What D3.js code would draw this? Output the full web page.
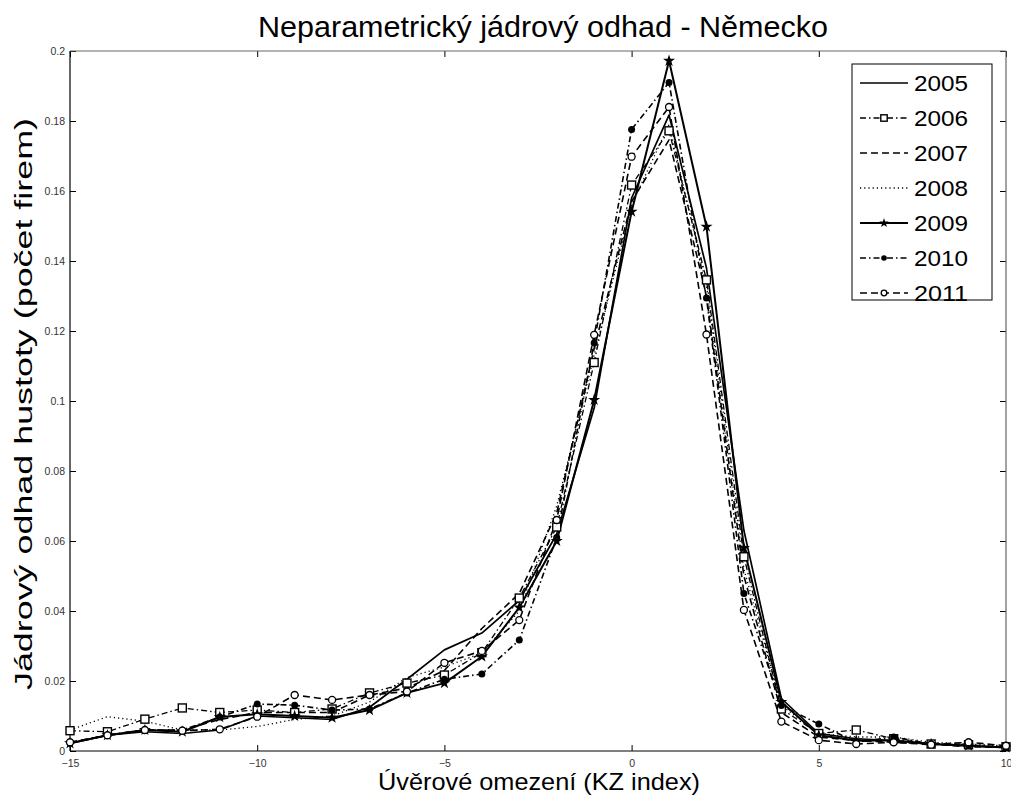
<!DOCTYPE html>
<html><head><meta charset="utf-8">
<script src="https://cdnjs.cloudflare.com/ajax/libs/d3/7.8.5/d3.min.js"></script>
<style>body{margin:0;background:#fff;} svg{display:block;font-family:"Liberation Sans",Arial,sans-serif;}</style>
</head><body>
<svg id="chart" width="1011" height="796"></svg>
<script>
const xValues = [-15,-14,-13,-12,-11,-10,-9,-8,-7,-6,-5,-4,-3,-2,-1,0,1,2,3,4,5,6,7,8,9,10];
const y2005 = [0.0022,0.0045,0.0055,0.0050,0.0060,0.0100,0.0095,0.0090,0.0125,0.0205,0.0289,0.0337,0.0430,0.0620,0.0980,0.1580,0.1817,0.1380,0.0630,0.0150,0.0050,0.0035,0.0030,0.0020,0.0015,0.0010];
const y2006 = [0.0058,0.0055,0.0091,0.0123,0.0110,0.0117,0.0110,0.0120,0.0166,0.0194,0.0217,0.0281,0.0437,0.0640,0.1110,0.1617,0.1772,0.1346,0.0555,0.0120,0.0050,0.0060,0.0035,0.0020,0.0018,0.0012];
const y2007 = [0.0025,0.0045,0.0060,0.0060,0.0090,0.0110,0.0110,0.0110,0.0160,0.0180,0.0230,0.0350,0.0450,0.0680,0.1150,0.1570,0.1746,0.1300,0.0500,0.0110,0.0040,0.0030,0.0025,0.0020,0.0012,0.0010];
const y2008 = [0.0060,0.0098,0.0085,0.0060,0.0060,0.0070,0.0090,0.0100,0.0140,0.0210,0.0240,0.0280,0.0400,0.0700,0.1130,0.1560,0.1790,0.1330,0.0520,0.0130,0.0050,0.0040,0.0040,0.0025,0.0020,0.0015];
const y2009 = [0.0022,0.0045,0.0060,0.0055,0.0097,0.0105,0.0100,0.0095,0.0117,0.0166,0.0194,0.0270,0.0410,0.0600,0.1003,0.1541,0.1972,0.1498,0.0580,0.0140,0.0045,0.0030,0.0030,0.0020,0.0015,0.0010];
const y2010 = [0.0022,0.0045,0.0060,0.0060,0.0097,0.0134,0.0131,0.0117,0.0120,0.0166,0.0205,0.0220,0.0317,0.0610,0.1166,0.1776,0.1910,0.1294,0.0450,0.0130,0.0077,0.0025,0.0040,0.0020,0.0015,0.0010];
const y2011 = [0.0025,0.0045,0.0060,0.0058,0.0062,0.0098,0.0160,0.0146,0.0160,0.0170,0.0252,0.0286,0.0374,0.0660,0.1189,0.1698,0.1840,0.1190,0.0403,0.0084,0.0031,0.0020,0.0025,0.0018,0.0025,0.0015];
const seriesNames = ["2005","2006","2007","2008","2009","2010","2011"];
const xTicks = [-15,-10,-5,0,5,10];
const yTicks = [0,0.02,0.04,0.06,0.08,0.1,0.12,0.14,0.16,0.18,0.2];
const titleText = "Neparametrický jádrový odhad - Německo";
const xLabel = "Úvěrové omezení (KZ index)";
const yLabel = "Jádrový odhad hustoty (počet firem)";

const seriesValues = [y2005,y2006,y2007,y2008,y2009,y2010,y2011];
const styles = [
  {dash:null, width:1.7, marker:null},
  {dash:"6,3,1.5,3", width:1.3, marker:"square"},
  {dash:"7,4", width:1.6, marker:null},
  {dash:"1.2,3", width:1.3, marker:null},
  {dash:null, width:2.0, marker:"star"},
  {dash:"6,3,1.5,3", width:1.6, marker:"dot"},
  {dash:"7,4", width:1.6, marker:"circle"}
];

const svg = d3.select("#chart");
const L = 70, R = 1006, T = 51, B = 751;
const x = d3.scaleLinear().domain([-15,10]).range([L,R]);
const y = d3.scaleLinear().domain([0,0.2]).range([B,T]);

svg.append("rect").attr("x",L).attr("y",T).attr("width",R-L).attr("height",B-T)
  .attr("fill","#fff").attr("stroke","none");

const gx = svg.append("g").attr("transform",`translate(0,${B})`)
  .call(d3.axisBottom(x).tickValues(xTicks).tickSize(-6).tickPadding(9).tickFormat(d3.format("d")));
const gxt = svg.append("g").attr("transform",`translate(0,${T})`)
  .call(d3.axisTop(x).tickValues(xTicks).tickSize(-6).tickFormat(""));
const gy = svg.append("g").attr("transform",`translate(${L},0)`)
  .call(d3.axisLeft(y).tickValues(yTicks).tickSize(-6).tickPadding(5).tickFormat(d => d===0?"0":String(+d.toFixed(2))));
const gyr = svg.append("g").attr("transform",`translate(${R},0)`)
  .call(d3.axisRight(y).tickValues(yTicks).tickSize(-6).tickFormat(""));
[gx,gxt,gy,gyr].forEach(g=>{
  g.select(".domain").remove();
  g.selectAll(".tick line").attr("stroke","#000");
  g.selectAll(".tick text").attr("font-size",10.5).attr("fill","#333").attr("font-family","Liberation Sans, Arial, sans-serif");
});
svg.append("line").attr("x1",L).attr("x2",R).attr("y1",B).attr("y2",B).attr("stroke","#000").attr("stroke-width",1.2);
svg.append("line").attr("x1",L).attr("x2",L).attr("y1",T).attr("y2",B).attr("stroke","#000").attr("stroke-width",1.2);
svg.append("line").attr("x1",L).attr("x2",R).attr("y1",T).attr("y2",T).attr("stroke","#666").attr("stroke-width",1.2);
svg.append("line").attr("x1",R).attr("x2",R).attr("y1",T).attr("y2",B).attr("stroke","#666").attr("stroke-width",1.2);

svg.append("defs").append("clipPath").attr("id","clip")
  .append("rect").attr("x",L-6).attr("y",T-6).attr("width",R-L+12).attr("height",B-T+12);

function drawMarker(g, type, cx, cy, scale=1){
  if(type==="square"){
    const s=8*scale;
    g.append("rect").attr("x",cx-s/2).attr("y",cy-s/2).attr("width",s).attr("height",s)
      .attr("fill","#fff").attr("stroke","#000").attr("stroke-width",1.4);
  } else if(type==="dot"){
    g.append("circle").attr("cx",cx).attr("cy",cy).attr("r",3.5*scale).attr("fill","#000");
  } else if(type==="circle"){
    g.append("circle").attr("cx",cx).attr("cy",cy).attr("r",3.5*scale).attr("fill","#fff").attr("stroke","#000").attr("stroke-width",1.3);
  } else if(type==="star"){
    g.append("path").attr("d",d3.symbol().type(d3.symbolStar).size(45*scale*scale)())
      .attr("transform",`translate(${cx},${cy})`).attr("fill","#000");
  }
}

const plot = svg.append("g").attr("clip-path","url(#clip)");
const line = d3.line().x((d,i)=>x(xValues[i])).y(d=>y(d));
seriesValues.forEach((vals,si)=>{
  const st = styles[si];
  plot.append("path").datum(vals).attr("d",line).attr("fill","none")
    .attr("stroke","#000").attr("stroke-width",st.width)
    .attr("stroke-dasharray",st.dash).attr("stroke-linejoin","round");
});
seriesValues.forEach((vals,si)=>{
  const st = styles[si];
  if(st.marker){
    const g = plot.append("g");
    vals.forEach((v,i)=>drawMarker(g, st.marker, x(xValues[i]), y(v)));
  }
});

// legend
const lg = svg.append("g");
lg.append("rect").attr("x",852).attr("y",64).attr("width",140).attr("height",236)
  .attr("fill","#fff").attr("stroke","#000").attr("stroke-width",1);
seriesNames.forEach((name,i)=>{
  const yy = 83 + i*35;
  const st = styles[i];
  lg.append("line").attr("x1",860).attr("x2",908).attr("y1",yy).attr("y2",yy)
    .attr("stroke","#000").attr("stroke-width",st.width).attr("stroke-dasharray",st.dash);
  if(st.marker) drawMarker(lg, st.marker, 884, yy, 0.8);
  lg.append("text").attr("x",914).attr("y",yy+8).attr("font-size",22.5)
    .attr("textLength",54).attr("lengthAdjust","spacingAndGlyphs").attr("fill","#000").text(name);
});

// titles
svg.append("text").attr("x",543).attr("y",37).attr("text-anchor","middle").attr("font-size",29)
  .attr("textLength",570).attr("lengthAdjust","spacingAndGlyphs").attr("fill","#000").text(titleText);
svg.append("text").attr("x",539).attr("y",790).attr("text-anchor","middle").attr("font-size",24)
  .attr("textLength",322).attr("lengthAdjust","spacingAndGlyphs").attr("fill","#000").text(xLabel);
svg.append("text").attr("transform","translate(32,404) rotate(-90)").attr("text-anchor","middle").attr("font-size",23)
  .attr("textLength",572).attr("lengthAdjust","spacingAndGlyphs").attr("fill","#000").text(yLabel);
</script>
</body></html>
